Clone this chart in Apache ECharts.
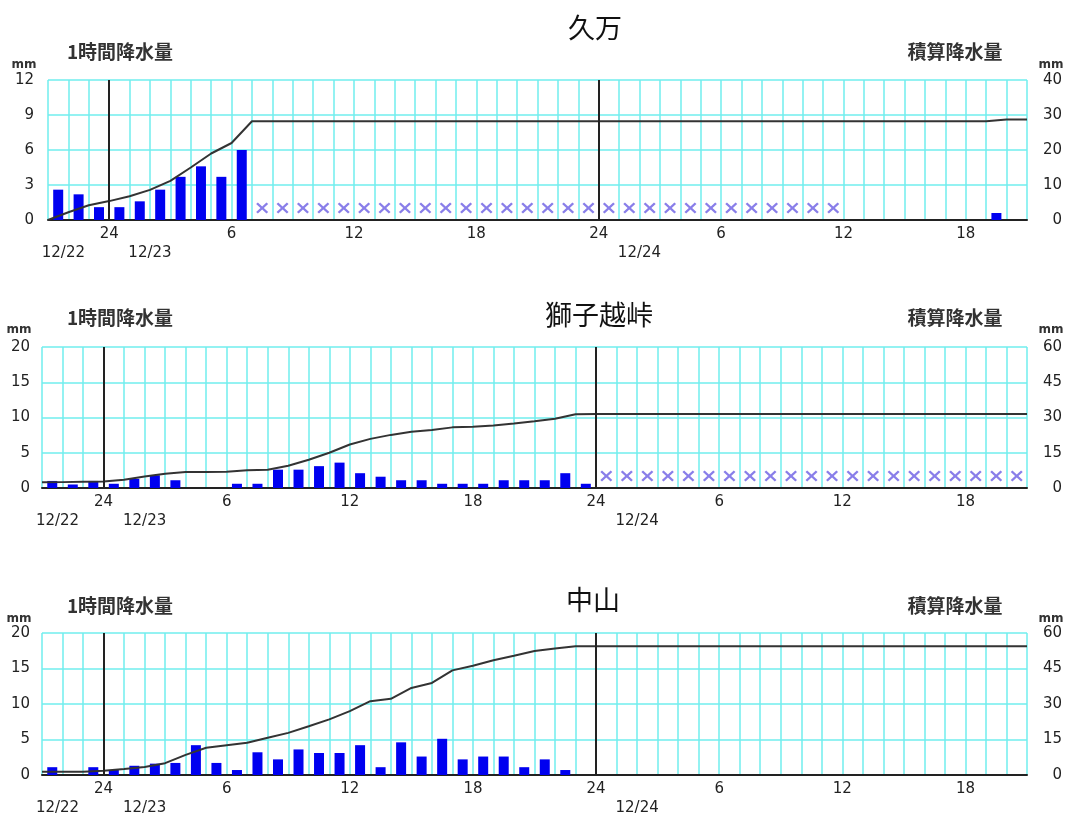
<!DOCTYPE html>
<html><head><meta charset="utf-8">
<script src="https://cdn.jsdelivr.net/npm/echarts@6/dist/echarts.min.js"></script>
<style>html,body{margin:0;padding:0;background:#fff}#c{width:1070px;height:816px}</style>
</head><body><div id="c"></div>
<script>
// 48 one-hour slots starting 12/22 21:00 ; null = missing (×)
const stationNames = ['久万', '獅子越峠', '中山'];
const rainKuma = [
  2.6, 2.2, 1.1, 1.1, 1.6, 2.6, 3.7, 4.6, 3.7, 6.0,
  null, null, null, null, null, null, null, null, null, null,
  null, null, null, null, null, null, null, null, null, null,
  null, null, null, null, null, null, null, null, null,
  0, 0, 0, 0, 0, 0, 0, 0.6, 0
];
const rainShishi = [
  1.0, 0.5, 1.0, 0.6, 1.3, 1.8, 1.1, 0, 0, 0.6,
  0.6, 2.6, 2.6, 3.1, 3.6, 2.1, 1.6, 1.1, 1.1, 0.6,
  0.6, 0.6, 1.1, 1.1, 1.1, 2.1, 0.6,
  null, null, null, null, null, null, null, null, null, null,
  null, null, null, null, null, null, null, null, null, null,
  null
];
const rainNakayama = [
  1.1, 0, 1.1, 0.7, 1.3, 1.6, 1.7, 4.2, 1.7, 0.7,
  3.2, 2.2, 3.6, 3.1, 3.1, 4.2, 1.1, 4.6, 2.6, 5.1,
  2.2, 2.6, 2.6, 1.1, 2.2, 0.7,
  0, 0, 0, 0, 0, 0, 0, 0, 0, 0,
  0, 0, 0, 0, 0, 0, 0, 0, 0, 0,
  0, 0
];
// cumulative rainfall at slot boundaries (49 values)
const cumKuma = [
  0, 2.2, 4.2, 5.4, 6.8, 8.6, 11.2, 15, 19, 22,
  28.2, 28.2, 28.2, 28.2, 28.2, 28.2, 28.2, 28.2, 28.2, 28.2,
  28.2, 28.2, 28.2, 28.2, 28.2, 28.2, 28.2, 28.2, 28.2, 28.2,
  28.2, 28.2, 28.2, 28.2, 28.2, 28.2, 28.2, 28.2, 28.2, 28.2,
  28.2, 28.2, 28.2, 28.2, 28.2, 28.2, 28.2,
  28.7, 28.7
];
const cumShishi = [
  2.4, 2.5, 2.7, 2.8, 3.5, 4.9, 6.1, 6.8, 6.8, 6.9,
  7.6, 7.8, 9.5, 12, 15, 18.5, 20.9, 22.6, 23.9, 24.7,
  25.8, 26.1, 26.6, 27.4, 28.4, 29.5, 31.4,
  31.5, 31.5, 31.5, 31.5, 31.5, 31.5, 31.5, 31.5, 31.5, 31.5,
  31.5, 31.5, 31.5, 31.5, 31.5, 31.5, 31.5, 31.5, 31.5, 31.5,
  31.5, 31.5
];
const cumNakayama = [
  1.4, 1.4, 1.4, 1.8, 2.5, 3.4, 5, 8.5, 11.5, 12.6,
  13.6, 15.7, 17.8, 20.6, 23.5, 27, 31.2, 32.2, 36.8, 38.9,
  44.2, 46.2, 48.5, 50.4, 52.4, 53.5, 54.4,
  54.4, 54.4, 54.4, 54.4, 54.4, 54.4, 54.4, 54.4, 54.4, 54.4,
  54.4, 54.4, 54.4, 54.4, 54.4, 54.4, 54.4, 54.4, 54.4, 54.4,
  54.4, 54.4
];
const hourTickPos = [3, 9, 15, 21, 27, 33, 39, 45];
const hourTickLabels = ['24', '6', '12', '18', '24', '6', '12', '18'];
const dateTickPos = [1, 5, 29];
const dateTickLabels = ['12/22', '12/23', '12/24'];
const dayLinePos = [3, 27];
const leftMax = [12, 20, 20];
const leftInterval = [3, 5, 5];
const rightMax = [40, 60, 60];
const rightInterval = [10, 15, 15];
const leftTitle = '1時間降水量';
const rightTitle = '積算降水量';
const unitText = 'mm';

const rains = [rainKuma, rainShishi, rainNakayama];
const cums = [cumKuma, cumShishi, cumNakayama];

const CYAN = '#70eeee';
const NUMFONT = 'DejaVu Sans';
const CJK = 'Noto Sans CJK JP';
const grids = [
  {left: 48, right: 43, top: 80, height: 140},
  {left: 42, right: 43, top: 347, height: 141},
  {left: 42, right: 43, top: 633, height: 142}
];
const layout = [
  {title: [595, 28], sub: 52, unitY: 65},
  {title: [599, 315], sub: 318, unitY: 330},
  {title: [593, 600], sub: 606, unitY: 619}
];
const xCross = 'path://M0,1.4L1.4,0L5,3.6L8.6,0L10,1.4L6.4,5L10,8.6L8.6,10L5,6.4L1.4,10L0,8.6L3.6,5Z';

const xAxes = [], yAxes = [], series = [], graphics = [];
grids.forEach((g, i) => {
  xAxes.push({
    type: 'value', gridIndex: i, min: 0, max: 48, interval: 1,
    axisLine: {show: true, onZero: false, lineStyle: {color: '#222', width: 2}},
    axisTick: {show: false},
    splitLine: {show: true, lineStyle: {color: CYAN, width: 1.5}},
    axisLabel: {margin: 7, fontSize: 15, color: '#222', fontFamily: NUMFONT,
      formatter: v => { const k = hourTickPos.indexOf(v); return k >= 0 ? hourTickLabels[k] : ''; }}
  });
  xAxes.push({
    type: 'value', gridIndex: i, min: 0, max: 48, interval: 1, position: 'bottom', offset: 19,
    axisLine: {show: false}, axisTick: {show: false}, splitLine: {show: false},
    axisLabel: {margin: 7, fontSize: 15, color: '#222', fontFamily: NUMFONT,
      formatter: v => { const k = dateTickPos.indexOf(v); return k === 0 ? '{a|' + dateTickLabels[k] + '}' : (k > 0 ? dateTickLabels[k] : ''); },
      rich: {a: {fontSize: 15, color: '#222', fontFamily: NUMFONT, padding: [0, 10, 0, 0]}}}
  });
  yAxes.push({
    type: 'value', gridIndex: i, min: 0, max: leftMax[i], interval: leftInterval[i], position: 'left',
    axisLine: {show: false}, axisTick: {show: false},
    splitLine: {show: true, lineStyle: {color: CYAN, width: 1.5}},
    axisLabel: {margin: i === 0 ? 14 : 12, fontSize: 15, color: '#222', fontFamily: NUMFONT}
  });
  yAxes.push({
    type: 'value', gridIndex: i, min: 0, max: rightMax[i], interval: rightInterval[i], position: 'right',
    axisLine: {show: false}, axisTick: {show: false}, splitLine: {show: false},
    axisLabel: {margin: 35, align: 'right', fontSize: 15, color: '#222', fontFamily: NUMFONT}
  });
  const rain = rains[i];
  const barData = [], crossData = [];
  rain.forEach((v, k) => {
    if (v === null) crossData.push([k + 0.5, 0]);
    else barData.push([k + 0.5, v]);
  });
  series.push({
    type: 'bar', xAxisIndex: 2 * i, yAxisIndex: 2 * i, barWidth: 10,
    itemStyle: {color: '#0000f0'}, data: barData, z: 2,
    markLine: {silent: true, symbol: 'none', label: {show: false},
      lineStyle: {color: '#222', width: 2, type: 'solid'},
      data: dayLinePos.map(p => ({xAxis: p}))}
  });
  series.push({
    type: 'scatter', xAxisIndex: 2 * i, yAxisIndex: 2 * i, symbol: xCross, symbolSize: [12, 11],
    symbolOffset: [0, -12], itemStyle: {color: '#6c5ee4'}, data: crossData, z: 3
  });
  series.push({
    type: 'line', xAxisIndex: 2 * i, yAxisIndex: 2 * i + 1, symbol: 'none',
    lineStyle: {color: '#333', width: 2}, data: cums[i].map((c, k) => [k, c]), z: 4
  });
  const L = layout[i];
  graphics.push({type: 'text', x: L.title[0], y: L.title[1], style: {text: stationNames[i], fontSize: 27, fill: '#111', fontFamily: CJK, align: 'center', verticalAlign: 'middle'}});
  graphics.push({type: 'text', x: 120, y: L.sub, style: {text: leftTitle, fontSize: 19, fill: '#333', fontFamily: CJK, fontWeight: 'bold', align: 'center', verticalAlign: 'middle'}});
  graphics.push({type: 'text', x: 955, y: L.sub, style: {text: rightTitle, fontSize: 19, fill: '#333', fontFamily: CJK, fontWeight: 'bold', align: 'center', verticalAlign: 'middle'}});
  graphics.push({type: 'text', x: i === 0 ? 24 : 19, y: L.unitY, style: {text: unitText, fontSize: 12, fill: '#333', fontFamily: NUMFONT, fontWeight: 'bold', align: 'center', verticalAlign: 'middle'}});
  graphics.push({type: 'text', x: 1051, y: L.unitY, style: {text: unitText, fontSize: 12, fill: '#333', fontFamily: NUMFONT, fontWeight: 'bold', align: 'center', verticalAlign: 'middle'}});
});

const chart = echarts.init(document.getElementById('c'), null, {renderer: 'canvas'});
chart.setOption({
  animation: false,
  backgroundColor: '#ffffff',
  grid: grids,
  xAxis: xAxes,
  yAxis: yAxes,
  series: series,
  graphic: graphics
});
</script>
</body></html>
